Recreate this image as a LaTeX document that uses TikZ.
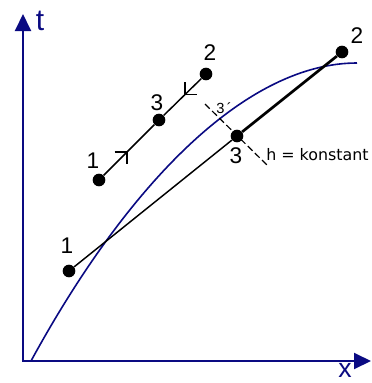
\documentclass[tikz,border=0pt]{standalone}
\usepackage{fontspec}
\setmainfont{Liberation Sans}
\newfontfamily\dejavu{DejaVu Sans}
\usetikzlibrary{arrows.meta,calc}
\definecolor{axisblue}{RGB}{10,10,130}
\tikzset{
  dot/.style={circle,fill=black,inner sep=0pt,minimum size=9.5pt},
  num/.style={font=\fontsize{17}{17}\selectfont,inner sep=0pt},
  axislabel/.style={font=\fontsize{22.5}{22.5}\selectfont,text=axisblue,inner sep=0pt},
  thinline/.style={line width=1.1pt},
  thickline/.style={line width=2pt},
  barb/.style={line width=1.1pt},
  axisline/.style={draw=axisblue,line width=1.5pt,
    {Triangle[length=12.75pt,width=12pt]}-{Triangle[length=12.75pt,width=12pt]}},
}
\begin{document}
\begin{tikzpicture}[x=0.75pt,y=-0.75pt]
\useasboundingbox (0,0) rectangle (372,383);
% axes
\coordinate (ttip) at (23,14);
\coordinate (orig) at (23,361);
\coordinate (xtip) at (371,361);
\draw[axisline] (ttip) -- (orig) -- (xtip);
\node[axislabel] (tlab) at (40,21) {t};
\node[axislabel,font=\fontsize{20}{20}\selectfont,anchor=base] (xlab) at (345,377.5) {x};
% curve
\coordinate (c0) at (31,361);
\coordinate (c1) at (357,63);
\draw[axisblue,line width=1.2pt] (c0) .. controls (132,176) and (250,63) .. (c1);
% left line
\node[dot] (L1) at (99,180) {};
\node[dot] (L3) at (159,120) {};
\node[dot] (L2) at (206,74) {};
\draw[thinline] (L1) -- (L3) -- (L2);
\node[num] (l1) at (93,161) {1};
\node[num] (l3) at (157,103) {3};
\node[num] (l2) at (210,53) {2};
\coordinate (a1) at ($(L1)!0.467!(L3)$);
\draw[barb] ($(a1)+(-12.5,0)$) -- (a1) -- ($(a1)+(0,12.5)$);
\coordinate (a2) at ($(L3)!0.553!(L2)$);
\draw[barb] ($(a2)+(0,-12.5)$) -- (a2) -- ($(a2)+(12.5,0)$);
% right line
\node[dot] (R1) at (69,271) {};
\node[dot] (R3) at (237,136) {};
\node[dot] (R2) at (342,52) {};
\draw[thinline] (R1) -- (R3);
\draw[thickline] (R3) -- (R2);
\node[num] (r1) at (67,246) {1};
\node[num] (r3) at (236,156) {3};
\node[num] (r2) at (357,36) {2};
% constant h line
\coordinate (h0) at (205,104);
\coordinate (h1) at (267,165);
\draw[line width=0.9pt,dash pattern=on 5pt off 2.5pt] (h0) -- (h1);
\node[font=\fontsize{11}{11}\selectfont,inner sep=0pt] (p3) at (224,108) {3\,´};
\node[font=\dejavu\fontsize{11.9}{11.9}\selectfont,inner sep=0pt,anchor=base west] (hk) at (266,160) {h = konstant};
\end{tikzpicture}
\end{document}
